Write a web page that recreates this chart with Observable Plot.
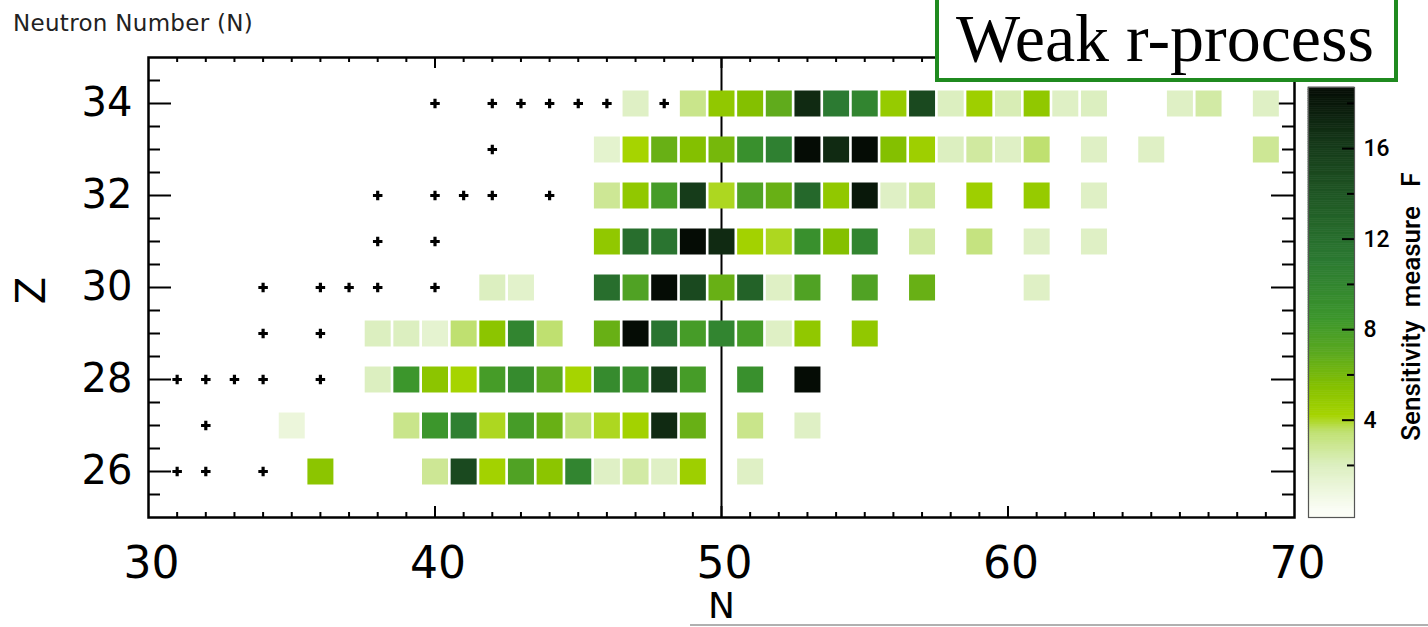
<!DOCTYPE html>
<html><head><meta charset="utf-8">
<script src="https://cdn.jsdelivr.net/npm/d3@7"></script>
<script src="https://cdn.jsdelivr.net/npm/@observablehq/plot@0.6"></script>
<style>
html,body{margin:0;padding:0;background:#fff;}
#wrap{position:relative;width:1428px;height:627px;overflow:hidden;background:#fff;}
#wrap svg{position:absolute;top:0;}
#title{position:absolute;left:13px;top:10px;font-family:"DejaVu Sans",sans-serif;font-size:23px;letter-spacing:0.3px;color:#222;white-space:nowrap;}
#box{position:absolute;left:935px;top:-10px;width:455px;height:84px;border:4px solid #1f8a1f;background:#fff;}
#boxtext{position:absolute;left:956px;top:4px;font-family:"Liberation Serif","Times New Roman",serif;font-size:68px;line-height:68px;color:#000;white-space:nowrap;}
#bottomline{position:absolute;left:690px;top:624px;width:738px;height:2px;background:#b0b0b0;}
</style>
</head><body>
<div id="wrap">
  <div id="main"></div>
  <div id="cbar"></div>
  <div id="title">Neutron Number (N)</div>
  <div id="box"></div>
  <div id="boxtext">Weak r-process</div>
  <div id="bottomline"></div>
</div>
<script>
// ---- Data: sensitivity measure F per (Z, N) ----
const row34 = [[47,1.8],[49,3],[50,5],[51,5.5],[52,6.8],[53,17],[54,11],[55,10],[56,4.8],[57,15],[58,2],[59,4.5],[60,2.2],[61,5],[62,1.8],[63,2],[66,1.8],[67,2.5],[69,1.8]];
const row33 = [[46,1.5],[47,4.2],[48,6.5],[49,5.5],[50,6],[51,9],[52,10.5],[53,19],[54,17],[55,19],[56,5.5],[57,4.5],[58,2],[59,2.6],[60,1.8],[61,3.5],[63,1.8],[65,1.8],[69,2.8]];
const row32 = [[46,2.8],[47,5],[48,8],[49,16],[50,4],[51,7.5],[52,6.5],[53,12.5],[54,5],[55,18],[56,1.8],[57,2.5],[59,4.5],[61,4.8],[63,1.8]];
const row31 = [[46,5],[47,12],[48,11.5],[49,19],[50,17],[51,4.3],[52,4],[53,9],[54,5.5],[55,10],[57,2.5],[59,3.2],[61,1.8],[63,1.8]];
const row30 = [[42,2],[43,1.6],[46,12],[47,7.5],[48,19],[49,15],[50,6.5],[51,13],[52,1.8],[53,7.5],[55,7.5],[57,6.5],[61,1.8]];
const row29 = [[38,2],[39,2],[40,1.4],[41,3.5],[42,5.2],[43,10],[44,3.5],[46,6.5],[47,19],[48,11.5],[49,8],[50,10],[51,8],[52,1.8],[53,5],[55,5]];
const row28 = [[38,2],[39,8.5],[40,5.2],[41,4.2],[42,8],[43,9.5],[44,7],[45,4.2],[46,9.5],[47,9],[48,16],[49,8],[51,9],[53,19]];
const row27 = [[35,1],[39,3],[40,8.5],[41,10.5],[42,4],[43,8],[44,6.5],[45,3.3],[46,4],[47,4.3],[48,17],[49,6.5],[51,3],[53,1.8]];
const row26 = [[36,5.2],[40,2.8],[41,15],[42,4.3],[43,7.5],[44,5.2],[45,10],[46,1.8],[47,2.5],[48,1.8],[49,4.5],[51,1.8]];

// stable / long-lived nuclei (plus markers): neutron numbers per Z
const stable34 = [40,42,43,44,45,46,48];
const stable33 = [42];
const stable32 = [38,40,41,42,44];
const stable31 = [38,40];
const stable30 = [34,36,37,38,40];
const stable29 = [34,36];
const stable28 = [31,32,33,34,36];
const stable27 = [32];
const stable26 = [31,32,34];

// axes
const xTickLabels = [30,40,50,60,70];
const yTickLabels = [26,28,30,32,34];
const xMajor = [40,50,60];
const xMinor = d3.range(31,70).filter(n => n % 10 !== 0);
const yMajor = [26,28,30,32,34];
const yMinor = d3.range(25.5,35,0.5).filter(z => !(z % 2 === 0));
const cbTickLabels = [4,8,12,16];
const cbMinor = [2,6,10,14,18];
const magicN = [50];

// colour map stops
const cDomain = [0, 2, 3.5, 4.2, 5.5, 7, 8.5, 11, 13, 16, 18.7];
const cRange = ["#fbfdf6","#dcefc0","#bfe070","#a6d400","#84c000","#5aa820","#3c962c","#2c7a32","#236228","#163c1a","#050c05"];

const rows = {34:row34,33:row33,32:row32,31:row31,30:row30,29:row29,28:row28,27:row27,26:row26};
const stables = {34:stable34,33:stable33,32:stable32,31:stable31,30:stable30,29:stable29,28:stable28,27:stable27,26:stable26};
const cells = Object.entries(rows).flatMap(([z, r]) => r.map(([n, f]) => ({Z:+z, N:n, F:f})));
const stable = Object.entries(stables).flatMap(([z, ns]) => ns.map(n => ({Z:+z, N:n})));

const color = {type:"linear", domain:cDomain, range:cRange, interpolate:"rgb", clamp:true};

const W = 1428, H = 627;
const fx0 = 148, fx1 = 1294, fy0 = 57, fy1 = 517;
const innerW = fx1 - fx0, innerH = fy1 - fy0;
const tickStyle = {stroke:"#000", strokeWidth:2};

const main = Plot.plot({
  width: W, height: H,
  marginLeft: fx0, marginRight: W - fx1, marginTop: fy0, marginBottom: H - fy1,
  x: {domain:[30,70]},
  y: {domain:[25,35]},
  color,
  style: {fontFamily:"DejaVu Sans, sans-serif", background:"transparent", color:"#000"},
  marks: [
    Plot.tickX(xMinor, {x:d=>d, insetTop: innerH - 5, ...tickStyle}),
    Plot.tickX(xMinor, {x:d=>d, insetBottom: innerH - 5, ...tickStyle}),
    Plot.tickX(xMajor, {x:d=>d, insetTop: innerH - 11, ...tickStyle}),
    Plot.tickX(xMajor, {x:d=>d, insetBottom: innerH - 11, ...tickStyle}),
    Plot.tickY(yMinor, {y:d=>d, insetRight: innerW - 12, ...tickStyle}),
    Plot.tickY(yMinor, {y:d=>d, insetLeft: innerW - 12, ...tickStyle}),
    Plot.tickY(yMajor, {y:d=>d, insetRight: innerW - 23, ...tickStyle}),
    Plot.tickY(yMajor, {y:d=>d, insetLeft: innerW - 23, ...tickStyle}),
    Plot.ruleX(magicN, {x:d=>d, stroke:"#000", strokeWidth:2}),
    Plot.dot(cells, {x:"N", y:"Z", fill:"F", symbol:"square", r:14.67}),
    Plot.dot(stable, {x:"N", y:"Z", fill:"#000", symbol:"cross", r:4}),
    Plot.frame({stroke:"#000", strokeWidth:2.5}),
    Plot.axisX({ticks:xTickLabels, tickSize:0, tickPadding:29, dx:3, fontSize:44, label:null}),
    Plot.axisY({ticks:yTickLabels, tickSize:0, tickPadding:16, fontSize:40, label:null}),
    Plot.text(["N"], {text:d=>d, frameAnchor:"bottom", textAnchor:"middle", lineAnchor:"middle", dy:89, fontSize:36}),
    Plot.text(["Z"], {text:d=>d, frameAnchor:"left", textAnchor:"middle", lineAnchor:"middle", dx:-116, dy:3, rotate:-90, fontSize:40})
  ]
});
document.getElementById("main").appendChild(main);

// colour bar
const cbDomain = [-0.3, 18.7];
const step = 0.1;
const barSteps = d3.range(cbDomain[0], cbDomain[1], step);
const cbx0 = 1300, cbW = 128;
const cb = Plot.plot({
  width: cbW, height: H,
  marginLeft: 8, marginRight: cbW - 54, marginTop: 87, marginBottom: H - fy1,
  x: {domain:[0,1], axis:null},
  y: {domain: cbDomain},
  color,
  style: {fontFamily:"Roboto, DejaVu Sans, sans-serif", background:"transparent", color:"#000"},
  marks: [
    Plot.rect(barSteps, {x1:0, x2:1, y1:d=>d, y2:d=>Math.min(d+step, cbDomain[1]), fill:d=>d+step/2, stroke:d=>d+step/2, strokeWidth:0.6}),
    Plot.tickY(cbTickLabels, {y:d=>d, insetLeft: 34, stroke:"#000", strokeWidth:2}),
    Plot.tickY(cbMinor, {y:d=>d, insetLeft: 39, stroke:"#000", strokeWidth:2}),
    Plot.frame({stroke:"#555", strokeWidth:1.2}),
    Plot.axisY({anchor:"right", ticks:cbTickLabels, tickSize:0, tickPadding:9, fontSize:23, fontWeight:500, label:null}),
    Plot.text(["Sensitivity\u00a0\u00a0measure\u00a0\u00a0\u00a0F"], {text:d=>d, frameAnchor:"right", textAnchor:"middle", lineAnchor:"middle", dx:57, dy:4, rotate:-90, fontSize:26, fontWeight:500})
  ]
});
cb.style.left = cbx0 + "px";
document.getElementById("cbar").appendChild(cb);
</script>
</body></html>
